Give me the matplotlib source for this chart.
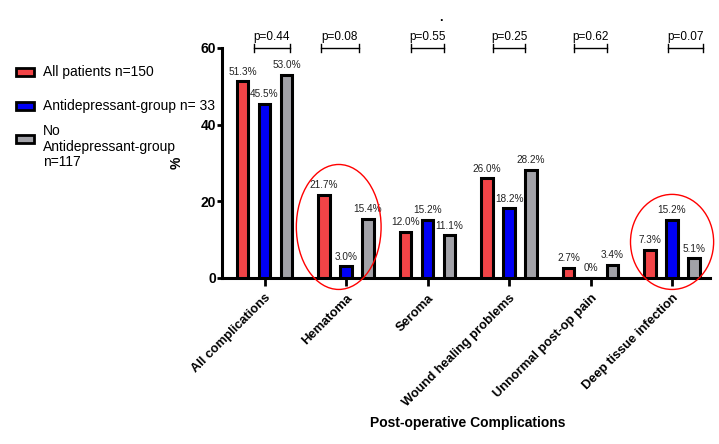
import matplotlib
matplotlib.use("Agg")
import matplotlib.pyplot as plt
from matplotlib.patches import Ellipse, Rectangle
import numpy as np

plt.rcParams['font.family'] = ['Liberation Sans', 'DejaVu Sans']

categories = ["All complications", "Hematoma", "Seroma", "Wound healing problems",
              "Unnormal post-op pain", "Deep tissue infection"]
all_patients = [51.3, 21.7, 12.0, 26.0, 2.7, 7.3]
antidep = [45.5, 3.0, 15.2, 18.2, 0.0, 15.2]
no_antidep = [53.0, 15.4, 11.1, 28.2, 3.4, 5.1]
all_labels = ["51.3%", "21.7%", "12.0%", "26.0%", "2.7%", "7.3%"]
antidep_labels = ["45.5%", "3.0%", "15.2%", "18.2%", "0%", "15.2%"]
no_labels = ["53.0%", "15.4%", "11.1%", "28.2%", "3.4%", "5.1%"]
p_values = ["p=0.44", "p=0.08", "p=0.55", "p=0.25", "p=0.62", "p=0.07"]
p_spans = [(-0.135, 0.31), (-0.31, 0.16), (-0.2, 0.2), (-0.2, 0.2), (-0.2, 0.2), (-0.05, 0.38)]
series_names = [["All patients n=150"], ["Antidepressant-group n= 33"],
                ["No", "Antidepressant-group", "n=117"]]
colors = ["#F24447", "#0000F5", "#A2A2A8"]

fig = plt.figure(figsize=(7.19, 4.44), dpi=100)
ax = fig.add_axes([0.309, 0.374, 0.679, 0.518])

x = np.arange(len(categories))
off = 0.27
w = 0.14
for i, (vals, labs) in enumerate([(all_patients, all_labels), (antidep, antidep_labels),
                                  (no_antidep, no_labels)]):
    xs = x + (i - 1) * off
    ax.bar(xs, vals, width=w, color=colors[i], edgecolor="black", linewidth=2.2, zorder=3)
    for xi, v, lab in zip(xs, vals, labs):
        ax.text(xi, v + 1.2, lab, ha="center", va="bottom", fontsize=7.2, color="#222222")

ax.set_xlim(-0.52, 5.47)
ax.set_ylim(0, 60)
ax.set_yticks([0, 20, 40, 60])
ax.set_xticks(x)
ax.set_xticklabels(categories, rotation=45, ha="right", rotation_mode="anchor",
                   fontsize=9.3, fontweight="bold")
for lab in ax.get_yticklabels():
    lab.set_fontweight("bold")
    lab.set_fontsize(10)
ax.tick_params(axis="both", width=2, direction="out")
ax.tick_params(axis="x", pad=4, length=6)
ax.tick_params(axis="y", pad=0.8, length=3.5)
for s in ["top", "right"]:
    ax.spines[s].set_visible(False)
for s in ["left", "bottom"]:
    ax.spines[s].set_linewidth(2.2)
ax.set_ylabel("%", fontweight="bold", fontsize=10)
ax.yaxis.set_label_coords(-0.078, 0.5)
ax.set_xlabel("Post-operative Complications", fontweight="bold", fontsize=10)
ax.xaxis.set_label_coords(0.504, -0.6)

# p-value brackets
for xi, (a, b), p in zip(x, p_spans, p_values):
    y0 = 60
    ax.plot([xi + a, xi + b], [y0, y0], color="black", lw=1, clip_on=False)
    ax.plot([xi + a, xi + a], [y0 - 1, y0 + 1], color="black", lw=1, clip_on=False)
    ax.plot([xi + b, xi + b], [y0 - 1, y0 + 1], color="black", lw=1, clip_on=False)
    ax.text(xi + (a + b) / 2, y0 + 1.3, p, ha="center", va="bottom", fontsize=8.5)

ax.text(2.16, 67, ".", ha="center", fontsize=9, fontweight="bold")

# highlight ellipses
ax.add_patch(Ellipse((0.91, 13.3), 1.04, 32.6, fill=False, edgecolor="red", lw=1,
                     clip_on=False, zorder=4))
ax.add_patch(Ellipse((5.0, 9.4), 1.02, 24.8, fill=False, edgecolor="red", lw=1,
                     clip_on=False, zorder=4))

# legend (manual, handles near top of each entry)
W, H = 719.0, 444.0
legend_y = [72, 106, 139]
text_y = [72, 106, 131]
for c, lines, hy, ty in zip(colors, series_names, legend_y, text_y):
    fig.patches.append(Rectangle((16 / W, 1 - (hy + 4) / H), 18 / W, 8 / H,
                                 transform=fig.transFigure, facecolor=c,
                                 edgecolor="black", linewidth=2))
    for k, line in enumerate(lines):
        fig.text(43 / W, 1 - (ty + 15.5 * k) / H, line, ha="left", va="center",
                 fontsize=10)

fig.savefig("out.png", dpi=100)
